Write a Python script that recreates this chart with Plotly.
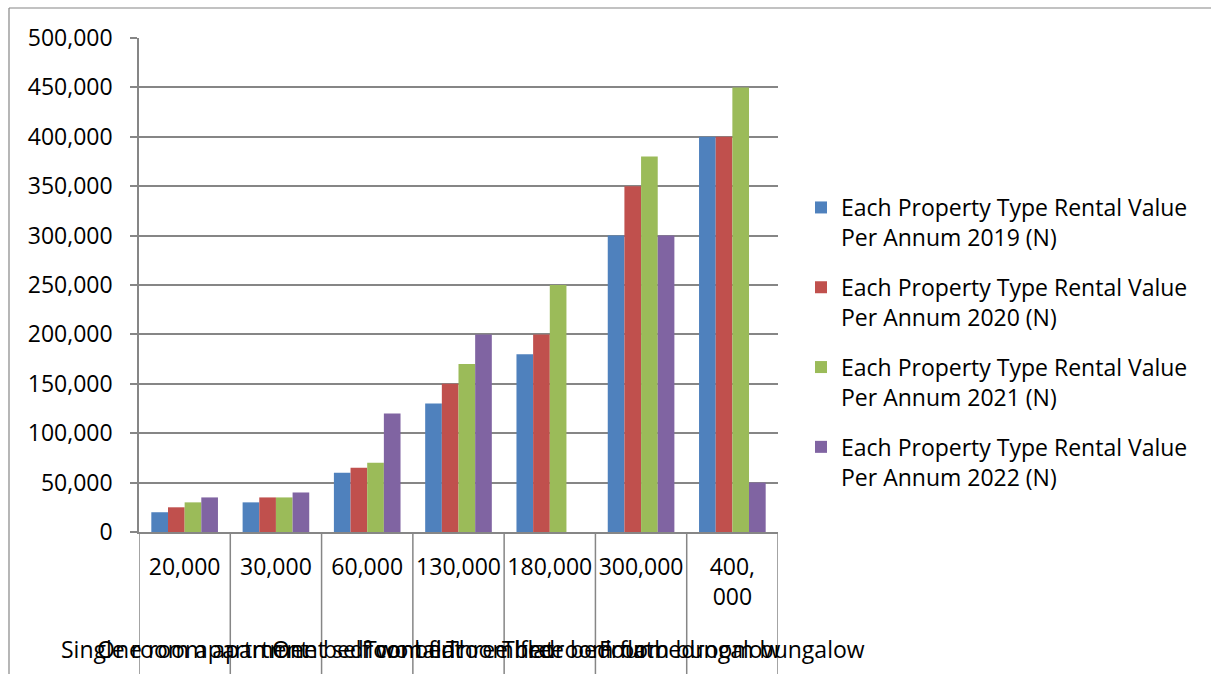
import plotly.graph_objects as go

# Rental value per property type (N), four survey years
rent_levels = ["20,000", "30,000", "60,000", "130,000", "180,000", "300,000", "400,<br>000"]
property_types = [
    "Single room apartment",
    "One room apartment self contain",
    "One bedroom flat",
    "Two bedroom flat",
    "Three bedroom flat",
    "Three bedroom bungalow",
    "Four bedroom bungalow",
]
rent_2019 = [20000, 30000, 60000, 130000, 180000, 300000, 400000]
rent_2020 = [25000, 35000, 65000, 150000, 200000, 350000, 400000]
rent_2021 = [30000, 35000, 70000, 170000, 250000, 380000, 450000]
rent_2022 = [35000, 40000, 120000, 200000, None, 300000, 50000]

series_names = [
    "Each Property Type Rental Value<br>Per Annum 2019 (N)",
    "Each Property Type Rental Value<br>Per Annum 2020 (N)",
    "Each Property Type Rental Value<br>Per Annum 2021 (N)",
    "Each Property Type Rental Value<br>Per Annum 2022 (N)",
]
series_values = [rent_2019, rent_2020, rent_2021, rent_2022]
series_colors = ["#4F81BD", "#C0504D", "#9BBB59", "#8064A2"]

W, H = 1211, 674
L, R, T, B = 139, 433, 38, 142
plot_w, plot_h = W - L - R, H - T - B

FONT = "Open Sans"
FS = 23
GRID = "#868686"

x_idx = list(range(len(rent_levels)))

fig = go.Figure()
for name, vals, col in zip(series_names, series_values, series_colors):
    fig.add_trace(go.Bar(
        x=x_idx, y=vals, name=name, legendgroup=name,
        marker=dict(color=col, line=dict(width=0)),
    ))


def px_x(px):
    return (px - L) / plot_w


def px_y(py):
    return (H - B - py) / plot_h


shapes = []
# category dividers running from the axis down through the label rows
for i in range(len(rent_levels) + 1):
    shapes.append(dict(type="line", xref="x", yref="paper",
                       x0=i - 0.5, x1=i - 0.5, y0=0, y1=px_y(H),
                       line=dict(color=GRID, width=1.5)))
# chart frame (left and top edges)
shapes.append(dict(type="line", xref="paper", yref="paper",
                   x0=px_x(9), x1=px_x(9), y0=px_y(8), y1=px_y(H),
                   line=dict(color=GRID, width=1.2)))
shapes.append(dict(type="line", xref="paper", yref="paper",
                   x0=px_x(9), x1=px_x(W), y0=px_y(8), y1=px_y(8),
                   line=dict(color=GRID, width=1.2)))

annotations = []
for i, label in enumerate(property_types):
    annotations.append(dict(
        x=i, xref="x", y=px_y(649), yref="paper", text=label,
        showarrow=False, xanchor="center", yanchor="middle",
        font=dict(family=FONT, size=FS, color="#000000"),
    ))

fig.update_layout(
    width=W, height=H,
    margin=dict(l=L, r=R, t=T, b=B, pad=0),
    paper_bgcolor="white", plot_bgcolor="white",
    barmode="group", bargap=0.27, bargroupgap=0,
    font=dict(family=FONT, size=FS, color="#000000"),
    shapes=shapes, annotations=annotations,
    legend=dict(
        x=px_x(801), xanchor="left", y=px_y(186), yanchor="top",
        font=dict(family=FONT, size=FS, color="#000000"),
        tracegroupgap=17, valign="top", bgcolor="rgba(0,0,0,0)",
    ),
    xaxis=dict(
        tickmode="array", tickvals=x_idx, ticktext=rent_levels,
        range=[-0.5, len(rent_levels) - 0.5],
        showgrid=False, showline=True, linecolor=GRID, linewidth=1.5,
        ticks="", ticklabelstandoff=14,
        tickfont=dict(family=FONT, size=FS, color="#000000"),
        zeroline=False, fixedrange=True,
    ),
    yaxis=dict(
        range=[0, 500000], tick0=0, dtick=50000, tickformat=",d",
        showgrid=True, gridcolor=GRID, gridwidth=1.5,
        showline=True, linecolor=GRID, linewidth=1.5,
        ticks="outside", ticklen=7, tickcolor=GRID, tickwidth=1.5,
        ticklabelstandoff=13,
        tickfont=dict(family=FONT, size=FS, color="#000000"),
        zeroline=False, fixedrange=True,
    ),
)

fig.write_html("out.html")
